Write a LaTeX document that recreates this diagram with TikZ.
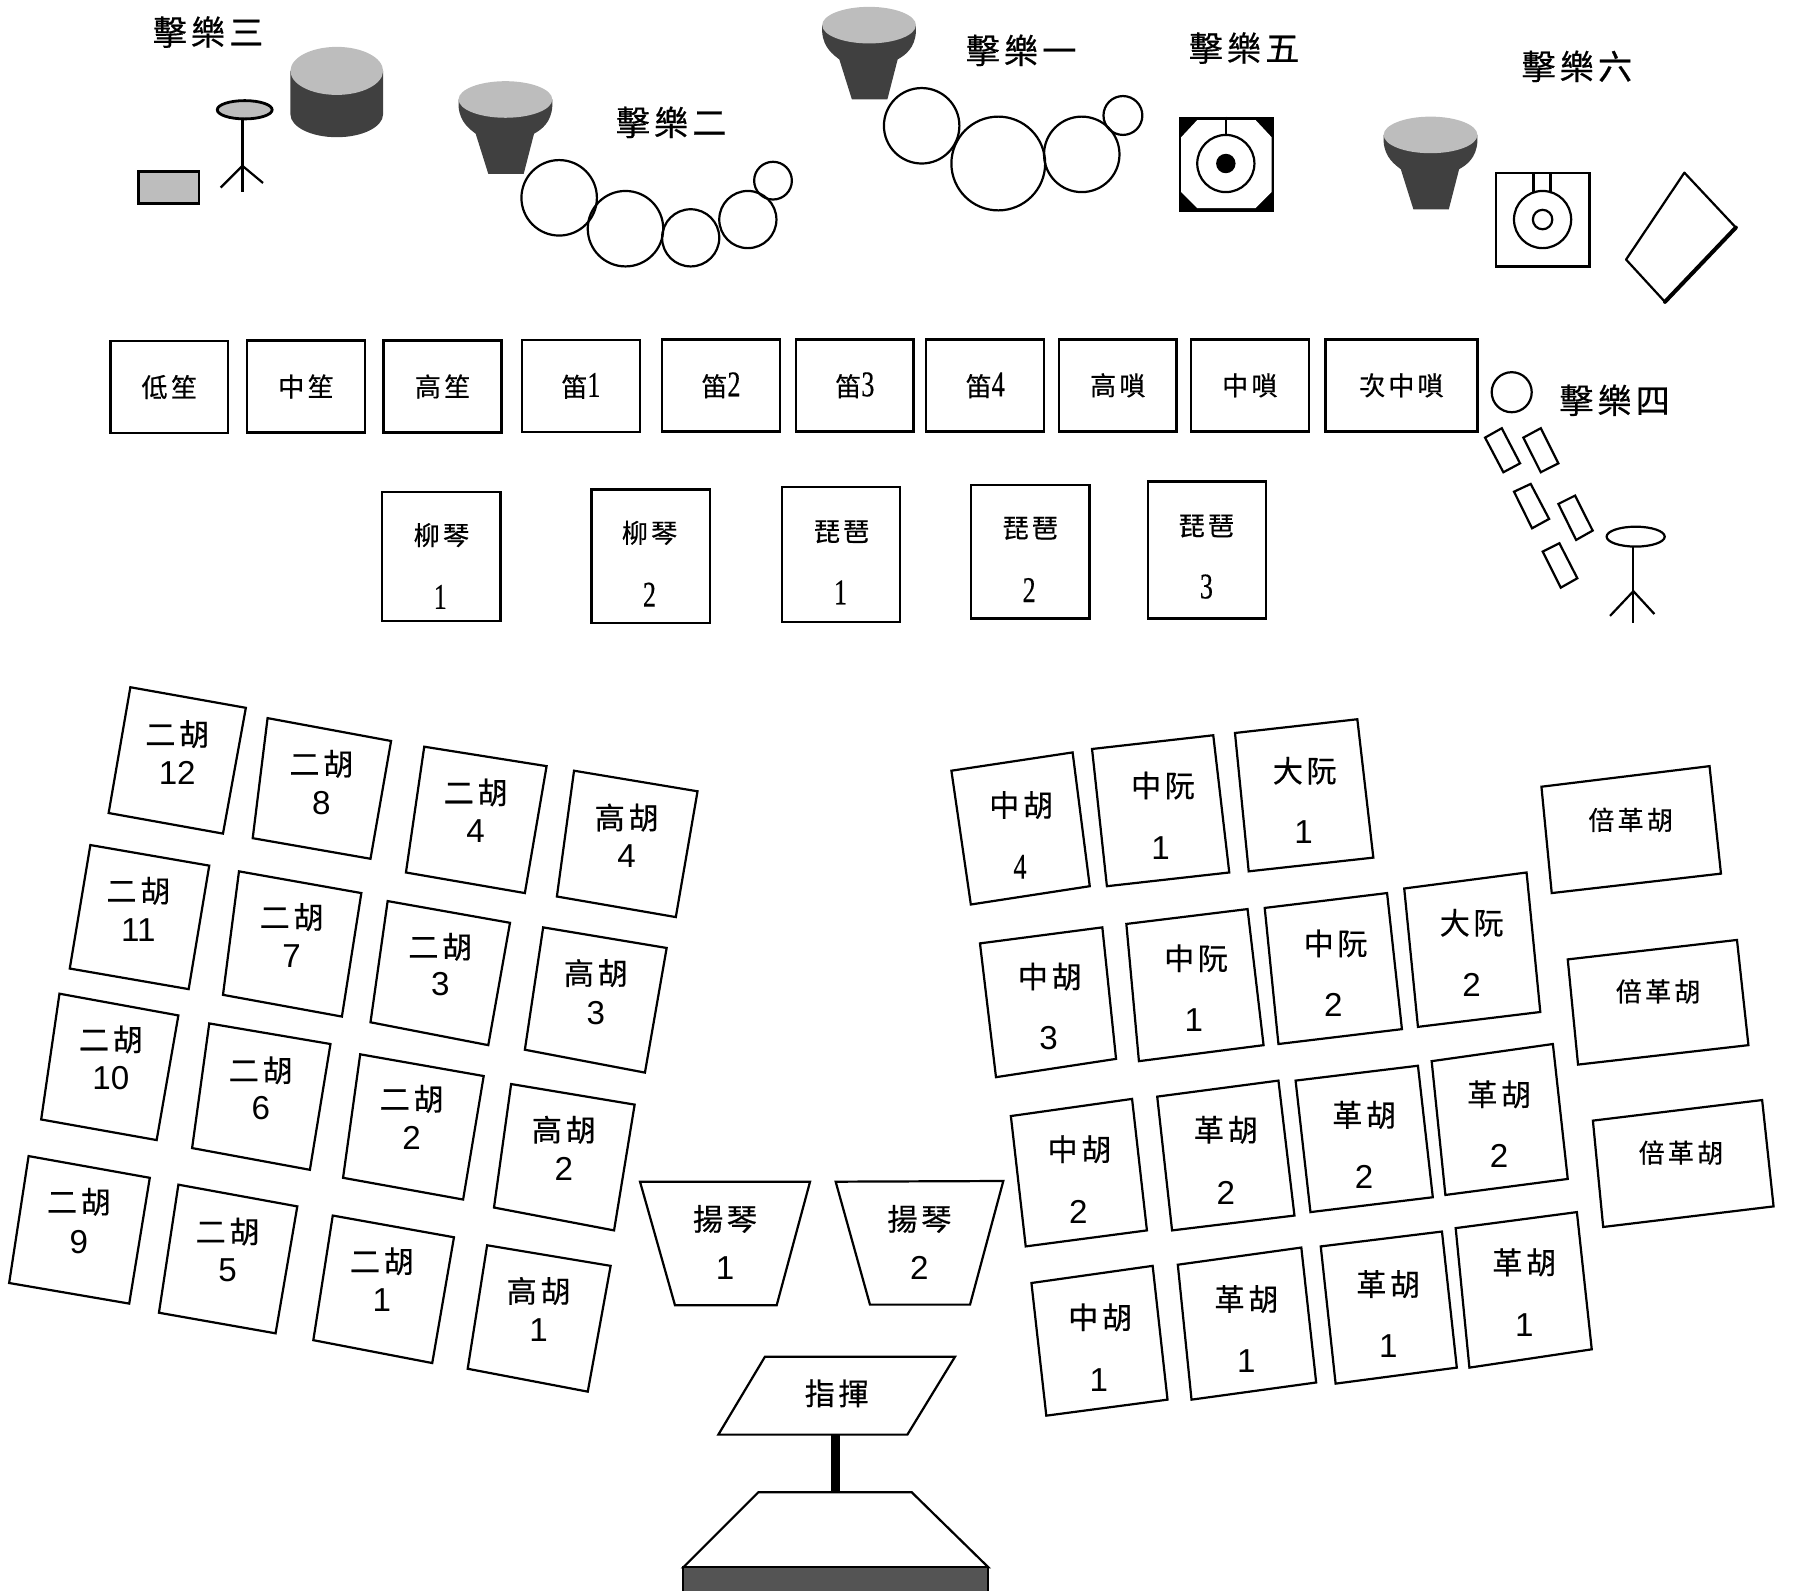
\documentclass[tikz,border=0pt]{standalone}
\usepackage{fontspec}
\setmainfont{Liberation Sans}
\newfontfamily\zhfont[LetterSpace=12,FakeBold=0.5]{Noto Sans CJK TC}
\newfontfamily\thinfont[FakeStretch=0.72,FakeBold=0.4]{Liberation Serif}
\newcommand{\thinsize}{\thinfont\fontsize{18}{19}\selectfont}
\definecolor{drumdark}{gray}{0.25}
\definecolor{drumlight}{gray}{0.74}
\definecolor{basedark}{gray}{0.33}
\usetikzlibrary{arrows.meta,positioning,shapes.geometric,calc}
\tikzset{
  conga/.pic={
    \fill[drumdark] (-41,0) -- (-41,6) .. controls (-40,20) and (-31,26) .. (-26,30)
      -- (-15,65) -- (16,65) -- (25,30) .. controls (32,26) and (40,20) .. (41,6) -- (41,0) -- cycle;
    \fill[drumlight] (0,0) ellipse [x radius=41,y radius=16];
  }
}

\begin{document}
\begin{tikzpicture}[
  x=0.02cm,y=-0.02cm,
  every node/.style={inner sep=0pt},
  windbox/.style={draw,line width=1.2pt,minimum width=2.06cm,minimum height=1.61cm,
                  font=\zhfont\fontsize{13}{14}\selectfont},
  pluckbox/.style={draw,line width=1.2pt,minimum width=2.07cm},
  seatbox/.style={draw,line width=1.1pt,line join=miter},
  ring/.style={draw,line width=1.1pt},
  title/.style={font=\zhfont\fontsize{17}{18}\selectfont},
  zh/.style={font=\zhfont\fontsize{15}{16}\selectfont},
  zhsmall/.style={font=\zhfont\fontsize{13}{14}\selectfont},
  num/.style={font=\fontsize{16.5}{18}\selectfont},
  thinnum/.style={font=\thinsize},
]
  \useasboundingbox (0,0) rectangle (1568,1391);

  % Percussion 3
  \node[title] (p3) at (182,28) {擊樂三};
  \fill[drumdark] (254,62) -- (254,100) arc [start angle=180,end angle=0,x radius=40.5,y radius=20]
    -- (335,62) -- cycle;
  \fill[drumlight] (294.5,62) ellipse [x radius=40.5,y radius=21];
  \draw[ring,fill=drumlight,line width=1.4pt] (214,96) ellipse [x radius=24,y radius=8];
  \draw[ring] (212,104) -- (212,168);
  \draw[ring] (193,164) -- (212,145) -- (230,160);
  \draw[seatbox,fill=drumlight,line width=1.4pt] (121,150) rectangle (174,178);

  % Percussion 2
  \node[title] (p2) at (587,107) {擊樂二};
  \pic at (442,87) {conga};
  \draw[ring] (489,173) circle [radius=33];
  \draw[ring] (547,200) circle [radius=33];
  \draw[ring] (604,208) circle [radius=25];
  \draw[ring] (654,192) circle [radius=25];
  \draw[ring] (676,158) circle [radius=16.5];

  % Percussion 1
  \node[title] (p1) at (893,44) {擊樂一};
  \pic at (760,22) {conga};
  \draw[ring] (806,110) circle [radius=33];
  \draw[ring] (873,143) circle [radius=41];
  \draw[ring] (946,135) circle [radius=33];
  \draw[ring] (982,101) circle [radius=17];

  % Percussion 5
  \node[title] (p5) at (1088,42) {擊樂五};
  \fill (1031,102) rectangle (1114,185);
  \fill[white] (1047,105) -- (1098,105) -- (1112,120) -- (1112,168) -- (1098,182)
    -- (1047,182) -- (1033,168) -- (1033,120) -- cycle;
  \draw[ring] (1072,102) -- (1072,118);
  \draw[ring] (1072,143) circle [radius=25];
  \fill (1072,143) circle [radius=8.5];

  % Percussion 6
  \node[title] (p6) at (1379,58) {擊樂六};
  \pic at (1251,118) {conga};
  \draw[seatbox] (1308,151) rectangle (1390,233);
  \draw[ring] (1341,151) -- (1341,168) (1356,151) -- (1356,168);
  \draw[ring] (1349,192) circle [radius=25];
  \draw[ring] (1349,192) circle [radius=8.5];
  \draw[seatbox,line join=round] (1473,151) -- (1518,199) -- (1456,264) -- (1422,227) -- cycle;
  \draw[line width=2pt,line cap=round] (1518,199) -- (1456,264);

  % Percussion 4
  \node[title] (p4) at (1412,350) {擊樂四};
  \draw[ring] (1322,343) circle [radius=17.5];
  \draw[ring] (1298.7,382.7) -- (1313.3,374.5) -- (1329.3,405.2) -- (1314.7,413) -- cycle;
  \draw[ring] (1332.2,382.7) -- (1347.4,374.5) -- (1362.8,405.2) -- (1347.4,413) -- cycle;
  \draw[ring] (1324,430) -- (1338.6,423.2) -- (1354.7,453.8) -- (1339.8,462) -- cycle;
  \draw[ring] (1362.8,440.7) -- (1377.4,433.4) -- (1392.8,464) -- (1378.3,472.2) -- cycle;
  \draw[ring] (1349.1,482.4) -- (1363.7,475.1) -- (1379.4,505.7) -- (1364.9,513.9) -- cycle;
  \draw[ring] (1430.4,469.3) ellipse [x radius=25.4,y radius=8.7];
  \draw[ring] (1428.4,478) -- (1428.4,545);
  \draw[ring] (1408,538.6) -- (1428.4,517) -- (1446.8,537);

  % Winds
  \node[windbox] (sheng1) at (148,338.5) {低笙};
  \node[windbox] (sheng2) at (267.5,338) {中笙};
  \node[windbox] (sheng3) at (387,338) {高笙};
  \node[windbox] (di1) at (508,337.5) {笛{\thinsize 1}};
  \node[windbox] (di2) at (630.5,337) {笛{\thinsize 2}};
  \node[windbox] (di3) at (747.5,337) {笛{\thinsize 3}};
  \node[windbox] (di4) at (861.5,337) {笛{\thinsize 4}};
  \node[windbox] (suona1) at (977.5,337) {高嗩};
  \node[windbox] (suona2) at (1093,337) {中嗩};
  \node[windbox,minimum width=2.66cm] (suona3) at (1225.5,337) {次中嗩};

  % Plucked row
  \node[pluckbox,minimum height=2.26cm] (liu1) at (386,486.5) {};
  \node[zhsmall] (liu1a) at (386,468) {柳琴};
  \node[thinnum] (liu1b) at (385,522) {1};
  \node[pluckbox,minimum height=2.34cm] (liu2) at (569,486.5) {};
  \node[zhsmall] (liu2a) at (568,466) {柳琴};
  \node[thinnum] (liu2b) at (568,520) {2};
  \node[pluckbox,minimum height=2.36cm] (pi1) at (735.5,485) {};
  \node[zhsmall] (pi1a) at (736,465) {琵琶};
  \node[thinnum] (pi1b) at (735,518) {1};
  \node[pluckbox,minimum height=2.34cm] (pi2) at (901,482.5) {};
  \node[zhsmall] (pi2a) at (901,462) {琵琶};
  \node[thinnum] (pi2b) at (900,516) {2};
  \node[pluckbox,minimum height=2.4cm] (pi3) at (1055.5,481) {};
  \node[zhsmall] (pi3a) at (1055,460) {琵琶};
  \node[thinnum] (pi3b) at (1055,513) {3};

  % Left block, back row
  \draw[seatbox] (114,601) -- (215,619) -- (195,729) -- (95,711) -- cycle;
  \node[zh] (er12a) at (155,642) {二胡}; \node[num] (er12b) at (155,676) {12};
  \draw[seatbox] (234,628) -- (342,648) -- (324,751) -- (221,733) -- cycle;
  \node[zh] (er8a) at (281,668) {二胡}; \node[num] (er8b) at (281,702) {8};
  \draw[seatbox] (371,653) -- (478,670) -- (459,781) -- (355,763) -- cycle;
  \node[zh] (er4a) at (416,693) {二胡}; \node[num] (er4b) at (416,727) {4};
  \draw[seatbox] (502,674) -- (610,692) -- (591,802) -- (487,784) -- cycle;
  \node[zh] (gao4a) at (548,715) {高胡}; \node[num] (gao4b) at (548,749) {4};

  % Left block, third row
  \draw[seatbox] (79,739) -- (183,757) -- (165,865) -- (61,847) -- cycle;
  \node[zh] (er11a) at (121,779) {二胡}; \node[num] (er11b) at (121,813) {11};
  \draw[seatbox] (209,762) -- (316,781) -- (299,889) -- (195,870) -- cycle;
  \node[zh] (er7a) at (255,802) {二胡}; \node[num] (er7b) at (255,836) {7};
  \draw[seatbox] (339,788) -- (446,807) -- (427,914) -- (324,894) -- cycle;
  \node[zh] (er3a) at (385,828) {二胡}; \node[num] (er3b) at (385,861) {3};
  \draw[seatbox] (475,811) -- (583,829) -- (564,938) -- (459,918) -- cycle;
  \node[zh] (gao3a) at (521,851) {高胡}; \node[num] (gao3b) at (521,886) {3};

  % Left block, second row
  \draw[seatbox] (52,869) -- (156,888) -- (137,997) -- (36,979) -- cycle;
  \node[zh] (er10a) at (97,909) {二胡}; \node[num] (er10b) at (97,943) {10};
  \draw[seatbox] (183,895) -- (289,913) -- (271,1023) -- (168,1004) -- cycle;
  \node[zh] (er6a) at (228,936) {二胡}; \node[num] (er6b) at (228,969) {6};
  \draw[seatbox] (315,922) -- (423,941) -- (405,1049) -- (300,1030) -- cycle;
  \node[zh] (er2a) at (360,961) {二胡}; \node[num] (er2b) at (360,995) {2};
  \draw[seatbox] (447,948) -- (555,966) -- (537,1076) -- (432,1056) -- cycle;
  \node[zh] (gao2a) at (493,988) {高胡}; \node[num] (gao2b) at (493,1022) {2};

  % Left block, front row
  \draw[seatbox] (25,1011) -- (131,1030) -- (113,1140) -- (8,1122) -- cycle;
  \node[zh] (er9a) at (69,1051) {二胡}; \node[num] (er9b) at (69,1086) {9};
  \draw[seatbox] (156,1036) -- (260,1055) -- (241,1166) -- (139,1148) -- cycle;
  \node[zh] (er5a) at (199,1077) {二胡}; \node[num] (er5b) at (199,1111) {5};
  \draw[seatbox] (291,1063) -- (397,1082) -- (378,1192) -- (274,1172) -- cycle;
  \node[zh] (er1a) at (334,1103) {二胡}; \node[num] (er1b) at (334,1137) {1};
  \draw[seatbox] (426,1089) -- (534,1107) -- (514,1217) -- (409,1197) -- cycle;
  \node[zh] (gao1a) at (471,1129) {高胡}; \node[num] (gao1b) at (471,1163) {1};

  % Right block, back row
  \draw[seatbox] (832,674) -- (938,658) -- (953,775) -- (849,791) -- cycle;
  \node[zh] (zh4a) at (893,704) {中胡}; \node[thinnum] (zh4b) at (892,758) {4};
  \draw[seatbox] (955,655) -- (1061,643) -- (1075,763) -- (968,775) -- cycle;
  \node[zh] (ruan1a) at (1017,687) {中阮}; \node[num] (ruan1b) at (1015,742) {1};
  \draw[seatbox] (1080,641) -- (1187,629) -- (1201,750) -- (1092,762) -- cycle;
  \node[zh] (da1a) at (1141,674) {大阮}; \node[num] (da1b) at (1140,728) {1};
  \draw[seatbox] (1348,688) -- (1495,670) -- (1505,764) -- (1357,781) -- cycle;
  \node[zhsmall] (bei1) at (1426,717) {倍革胡};

  % Right block, third row
  \draw[seatbox] (857,825) -- (964,811) -- (976,926) -- (871,942) -- cycle;
  \node[zh] (zh3a) at (918,854) {中胡}; \node[num] (zh3b) at (917,908) {3};
  \draw[seatbox] (985,808) -- (1091,795) -- (1105,914) -- (996,928) -- cycle;
  \node[zh] (ruan2a) at (1046,838) {中阮}; \node[num] (ruan2b) at (1044,892) {1};
  \draw[seatbox] (1106,794) -- (1213,781) -- (1226,900) -- (1118,913) -- cycle;
  \node[zh] (ruan3a) at (1168,825) {中阮}; \node[num] (ruan3b) at (1166,879) {2};
  \draw[seatbox] (1228,777) -- (1335,763) -- (1347,885) -- (1240,898) -- cycle;
  \node[zh] (da2a) at (1287,807) {大阮}; \node[num] (da2b) at (1287,861) {2};
  \draw[seatbox] (1371,839) -- (1519,822) -- (1529,914) -- (1380,931) -- cycle;
  \node[zhsmall] (bei2) at (1450,867) {倍革胡};

  % Right block, second row
  \draw[seatbox] (884,976) -- (990,961) -- (1003,1076) -- (897,1090) -- cycle;
  \node[zh] (zh2a) at (944,1005) {中胡}; \node[num] (zh2b) at (943,1060) {2};
  \draw[seatbox] (1012,959) -- (1118,945) -- (1132,1063) -- (1025,1076) -- cycle;
  \node[zh] (ge1a) at (1072,988) {革胡}; \node[num] (ge1b) at (1072,1043) {2};
  \draw[seatbox] (1133,945) -- (1240,932) -- (1253,1047) -- (1146,1060) -- cycle;
  \node[zh] (ge2a) at (1193,975) {革胡}; \node[num] (ge2b) at (1193,1029) {2};
  \draw[seatbox] (1252,928) -- (1358,913) -- (1371,1031) -- (1264,1045) -- cycle;
  \node[zh] (ge3a) at (1311,957) {革胡}; \node[num] (ge3b) at (1311,1011) {2};
  \draw[seatbox] (1393,980) -- (1541,962) -- (1551,1055) -- (1402,1073) -- cycle;
  \node[zhsmall] (bei3) at (1470,1008) {倍革胡};

  % Right block, front row
  \draw[seatbox] (902,1122) -- (1008,1107) -- (1021,1224) -- (915,1238) -- cycle;
  \node[zh] (zh1a) at (962,1152) {中胡}; \node[num] (zh1b) at (961,1207) {1};
  \draw[seatbox] (1030,1106) -- (1138,1091) -- (1151,1209) -- (1042,1224) -- cycle;
  \node[zh] (ge4a) at (1090,1136) {革胡}; \node[num] (ge4b) at (1090,1190) {1};
  \draw[seatbox] (1155,1090) -- (1261,1077) -- (1274,1196) -- (1168,1210) -- cycle;
  \node[zh] (ge5a) at (1214,1123) {革胡}; \node[num] (ge5b) at (1214,1177) {1};
  \draw[seatbox] (1273,1074) -- (1379,1060) -- (1392,1180) -- (1285,1196) -- cycle;
  \node[zh] (ge6a) at (1333,1104) {革胡}; \node[num] (ge6b) at (1333,1159) {1};

  % Dulcimers
  \draw[seatbox] (559.7,1033.4) -- (708.4,1033.4) -- (679.2,1141.5) -- (590.3,1141.5) -- cycle;
  \node[zh] (yang1a) at (634,1066) {揚琴}; \node[num] (yang1b) at (634,1109) {1};
  \draw[seatbox] (730.8,1033.4) -- (877.4,1032.8) -- (848.3,1140.9) -- (760.8,1140.9) -- cycle;
  \node[zh] (yang2a) at (804,1066) {揚琴}; \node[num] (yang2b) at (804,1109) {2};

  % Conductor
  \draw[seatbox] (669,1186.4) -- (835.2,1186.4) -- (793.5,1254.6) -- (628.2,1254.6) -- cycle;
  \node[zh] (cond) at (731.7,1218.5) {指揮};
  \fill (726.4,1254.6) rectangle (734.6,1305);
  \draw[seatbox] (663.2,1305) -- (797.3,1305) -- (864.3,1370.6) -- (597.6,1370.6) -- cycle;
  \fill[basedark] (597.6,1370.6) rectangle (864.3,1391);
  \draw[seatbox] (597.6,1391) -- (597.6,1370.6) -- (864.3,1370.6) -- (864.3,1391);
\end{tikzpicture}
\end{document}
